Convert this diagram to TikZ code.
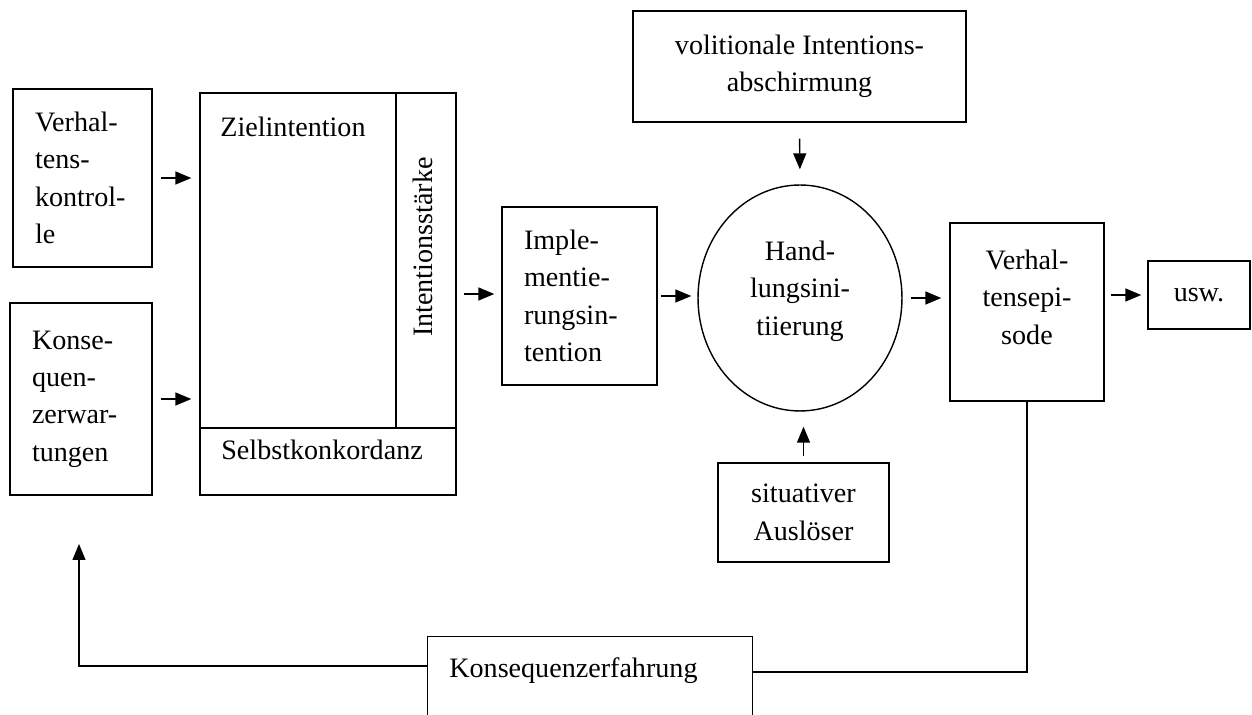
\documentclass[tikz,border=0pt]{standalone}
\usepackage{fontspec}
\setmainfont{Liberation Serif}
\usetikzlibrary{shapes.geometric, arrows.meta}
\tikzset{
  kasten/.style={draw, line width=0.8pt, inner xsep=0.44cm, inner ysep=0pt, align=left},
  pfeil/.style={line width=0.8pt, -{Triangle[length=0.32cm, width=0.26cm]}},
  linie/.style={line width=0.8pt}
}

\begin{document}
\begin{tikzpicture}[x=0.02cm, y=-0.02cm, font=\fontsize{16pt}{21.3pt}\selectfont]
    \useasboundingbox (0,0) rectangle (1252,715);
    \clip (0,0) rectangle (1252,715);

    % Eingangsgroessen
    \node[kasten, minimum width=2.78cm, minimum height=3.56cm, text width=1.9cm] (vk) at (82.5,178) {Verhal-\\tens-\\kontrol-\\le};
    \node[kasten, minimum width=2.84cm, minimum height=3.84cm, text width=1.96cm] (ke) at (81,399) {Konse-\\quen-\\zerwar-\\tungen};

    % Zielintention mit Unterteilung
    \node[kasten, minimum width=5.12cm, minimum height=8.04cm] (ziel) at (328,294) {};
    \draw[linie] (ziel.north -| 396,0) -- (396,428);
    \draw[linie] (ziel.west |- 0,428) -- (ziel.east |- 0,428);
    \node[anchor=base west, inner sep=0pt] (zielText) at (220,137) {Zielintention};
    \node[anchor=base west, inner sep=0pt] (selbst) at (221,460) {Selbstkonkordanz};
    \node[rotate=90, inner sep=0pt] (staerke) at (423,247) {Intentionsstärke};

    \node[kasten, minimum width=3.1cm, minimum height=3.56cm, text width=2.22cm] (impl) at (579.5,296) {Imple-\\mentie-\\rungsin-\\tention};

    % Handlungsinitiierung
    \node[draw, ellipse, line width=0.8pt, inner sep=0pt, minimum width=4.08cm, minimum height=4.52cm] (hand) at (800,298) {};
    \node[align=center] (handText) at ([yshift=0.14cm]hand.center) {Hand-\\lungsini-\\tiierung};
    \node[kasten, align=center, minimum width=6.66cm, minimum height=2.22cm] (vol) at (799.5,66.5) {volitionale Intentions-\\abschirmung};
    \node[kasten, align=center, minimum width=3.42cm, minimum height=1.98cm] (sit) at (803.5,512.5) {situativer\\Auslöser};

    \node[kasten, minimum width=3.08cm, minimum height=3.56cm] (vep) at (1027,312) {};
    \node[align=center] (vepText) at ([yshift=0.3cm]vep.center) {Verhal-\\tensepi-\\sode};
    \node[kasten, align=center, minimum width=2.04cm, minimum height=1.36cm] (usw) at (1199,295) {usw.};

    \node[kasten, anchor=north west, minimum width=6.5cm, minimum height=2cm] (kef) at (427,636) {};
    \node[anchor=base west, inner sep=0pt] (kefText) at (449,678) {Konsequenzerfahrung};

    % Pfeile
    \draw[pfeil, shorten <=0.16cm, shorten >=0.16cm] (vk.east) -- (vk.east -| ziel.west);
    \draw[pfeil, shorten <=0.16cm, shorten >=0.16cm] (ke.east) -- (ke.east -| ziel.west);
    \draw[pfeil, shorten <=0.14cm, shorten >=0.14cm] (ziel.east) -- (ziel.east -| impl.west);
    \draw[pfeil, shorten <=0.06cm, shorten >=0.12cm] (impl.east) -- (impl.east -| hand.west);
    \draw[pfeil, shorten <=0.16cm, shorten >=0.16cm] (hand.east) -- (hand.east -| vep.west);
    \draw[pfeil, shorten <=0.12cm, shorten >=0.12cm] (vep.east |- usw.west) -- (usw.west);
    \draw[pfeil, shorten <=0.32cm, shorten >=0.3cm] (vol.south) -- (hand.north);
    \draw[pfeil, shorten <=0.12cm, shorten >=0.3cm] (sit.north) -- (sit.north |- hand.south);

    % Rueckkopplung
    \coordinate (rueck) at (79,544);
    \draw[linie] (vep.south) |- (kef.east |- 0,672);
    \draw[pfeil] (kef.west |- 0,666) -| (rueck);
\end{tikzpicture}
\end{document}
